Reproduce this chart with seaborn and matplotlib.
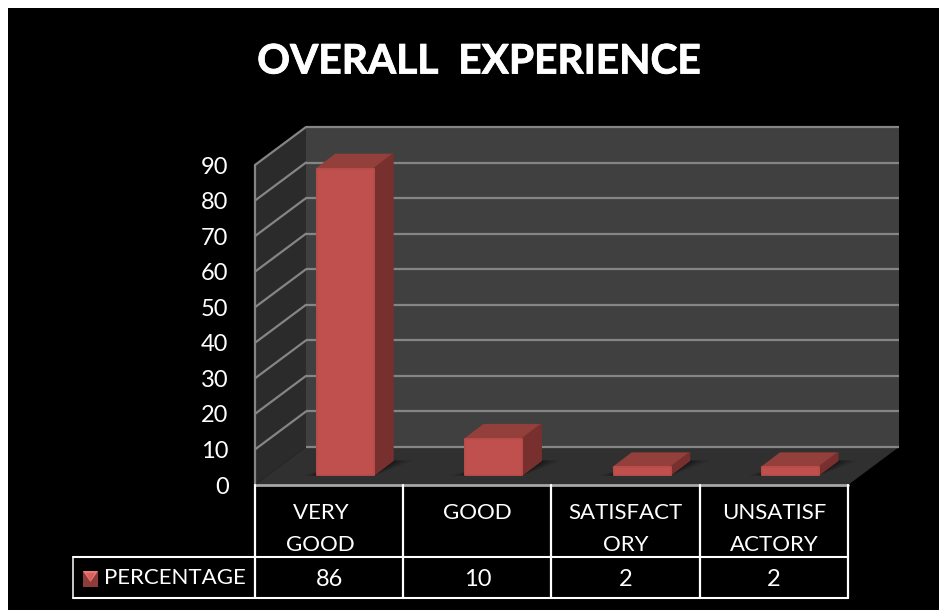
import matplotlib
matplotlib.use("Agg")
import matplotlib.pyplot as plt
import matplotlib.patheffects as pe
import seaborn as sns
from matplotlib.patches import Polygon, Rectangle
from matplotlib.transforms import Affine2D

# ---------------- DATA ----------------

categories = ["VERY GOOD", "GOOD", "SATISFACTORY", "UNSATISFACTORY"]
values = [86, 10, 2, 2]
tick_labels = ["VERY   \nGOOD   ", "GOOD\n ", "SATISFACT\nORY", "UNSATISF\nACTORY"]
y_ticks = [0, 10, 20, 30, 40, 50, 60, 70, 80, 90]
series_name = "PERCENTAGE"
title = "OVERALL  EXPERIENCE"

# ---------------- SETUP ----------------

W, H = 939, 610
sns.set_theme(style="white")
plt.rcParams["font.family"] = ["Lato", "DejaVu Sans"]

fig = plt.figure(figsize=(W / 100, H / 100), dpi=100, facecolor="white")

# bg holds everything in plain pixels (y from the top), ax holds the bars
bg = fig.add_axes([0, 0, 1, 1], zorder=0)
bg.set_xlim(0, W)
bg.set_ylim(H, 0)
bg.axis("off")

ax = fig.add_axes([255 / W, (H - 485) / H, 593 / W, 320 / H], zorder=1)
ax.patch.set_alpha(0)

sns.barplot(x=categories, y=values, color="#C0504D", saturation=1, width=0.385, ax=ax)
ax.set_xlim(-0.5, 3.5)
ax.set_ylim(0, 90)
ax.set_xlabel("")
ax.set_ylabel("")
for s in ax.spines.values():
    s.set_visible(False)

ax.set_yticks(y_ticks)
ax.set_xticks(range(len(tick_labels)))
ax.set_xticklabels(tick_labels, linespacing=1.72)
ax.tick_params(axis="y", length=0, pad=19, labelsize=17, labelcolor="white")
ax.tick_params(axis="x", length=0, pad=13, labelsize=16, labelcolor="white")


def px(x, y):
    # data position of ax to bg pixels
    dx, dy = ax.transData.transform((x, y))
    return dx, H - dy


def poly(points, color, z=1, edge="none", **kw):
    bg.add_patch(Polygon(points, closed=True, facecolor=color, edgecolor=edge, zorder=z, **kw))


# ---------------- BACKGROUND ----------------

bg.add_patch(Rectangle((8, 8), W - 8, H - 8, facecolor="black", edgecolor="none", zorder=0))

# depth of the chart box, and where the bars stand inside it
box_dx, box_dy = 51, -38
bar_dx, bar_dy = 16.5, -10.5
side_dx, side_dy = 18.5, -14

x0, y0 = px(-0.5, 0)
x1, _ = px(3.5, 0)
_, ytop = px(-0.5, 90)

poly([(x0 + box_dx, ytop + box_dy), (x1 + box_dx, ytop + box_dy),
      (x1 + box_dx, y0 + box_dy), (x0 + box_dx, y0 + box_dy)], "#404040")
poly([(x0, ytop), (x0 + box_dx, ytop + box_dy), (x0 + box_dx, y0 + box_dy), (x0, y0)], "#2B2B2B")
poly([(x0, y0), (x1, y0), (x1 + box_dx, y0 + box_dy), (x0 + box_dx, y0 + box_dy)], "#303030")

for v in y_ticks:
    _, y = px(0, v)
    bg.plot([x0 + box_dx, x1 + box_dx], [y + box_dy, y + box_dy], color="#858585", lw=1.6, zorder=2,
            solid_capstyle="butt")
    if v > 0:
        bg.plot([x0, x0 + box_dx], [y, y + box_dy], color="#858585", lw=1.6, zorder=2)
bg.plot([x0, x0], [ytop, y0], color="#858585", lw=1.6, zorder=2)
bg.plot([x0, x1], [y0, y0], color="#A6A6A6", lw=2, zorder=3)

# ---------------- BARS ----------------

bars = list(ax.patches)
for bar in bars:
    bar.set_transform(ax.transData + Affine2D().translate(bar_dx, -bar_dy))
    bar.set_clip_on(False)
    bar.set_edgecolor("#B94D4A")
    bar.set_linewidth(1.4)
    bar.set_joinstyle("round")

    left, base = px(bar.get_x(), 0)
    right, top = px(bar.get_x() + bar.get_width(), bar.get_height())
    left, right = left + bar_dx, right + bar_dx
    base, top = base + bar_dy, top + bar_dy

    # soft shadow on the floor
    for grow, alpha in [(20, 0.10), (14, 0.14), (8, 0.18), (3, 0.22)]:
        poly([(left - grow * 0.7, base + 1), (right, base + 1),
              (right + side_dx + grow, base + side_dy),
              (left + side_dx + grow, base + side_dy)], "black", z=2.5, alpha=alpha)

    poly([(left, top), (right, top), (right + side_dx, top + side_dy), (left + side_dx, top + side_dy)],
         "#933F3C", z=3, edge="#933F3C", lw=1.5, joinstyle="round")
    poly([(right, top), (right + side_dx, top + side_dy), (right + side_dx, base + side_dy), (right, base)],
         "#78302E", z=3.1, edge="#78302E", lw=1.5, joinstyle="round")

# ---------------- TITLE ----------------

bg.text(479, 62, title, color="white", fontsize=29.3, fontweight="bold", ha="center", va="center", zorder=5,
        path_effects=[pe.withStroke(linewidth=0.6, foreground="white")])

# ---------------- TABLE ----------------

row1, row2, table_left = 557, 598, 73
edges = [px(i - 0.5, 0)[0] for i in range(len(categories) + 1)]

for e in edges:
    bg.plot([e, e], [y0, row2], color="white", lw=1.6, zorder=4)
bg.plot([table_left, edges[-1]], [row1, row1], color="white", lw=1.5, zorder=4)
bg.plot([table_left, edges[-1]], [row2, row2], color="white", lw=1.5, zorder=4)
bg.plot([table_left, table_left], [row1, row2], color="white", lw=1.1, zorder=4)

for i, v in enumerate(values):
    bg.text(px(i, 0)[0], (row1 + row2) / 2 + 1.5, str(v), color="white", fontsize=17,
            ha="center", va="center", zorder=5)

bg.text(104, (row1 + row2) / 2, series_name, color="white", fontsize=16, ha="left", va="center", zorder=5)

# legend key with its little bevel
kx0, kx1, ky0, ky1 = 83, 98, 571, 587
kxm, kym = (kx0 + kx1) / 2, (ky0 + ky1) / 2
poly([(kx0, ky0), (kx1, ky0), (kx1, ky1), (kx0, ky1)], "#8E3B39", z=5)
poly([(kx0, ky0), (kx1, ky0), (kxm, kym + 3)], "#E87B76", z=6)
poly([(kx0 + 3, ky0 + 2), (kx1 - 3, ky0 + 2), (kxm, kym + 2)], "#D9605B", z=6)

fig.savefig("out.png", dpi=100, facecolor=fig.get_facecolor())
